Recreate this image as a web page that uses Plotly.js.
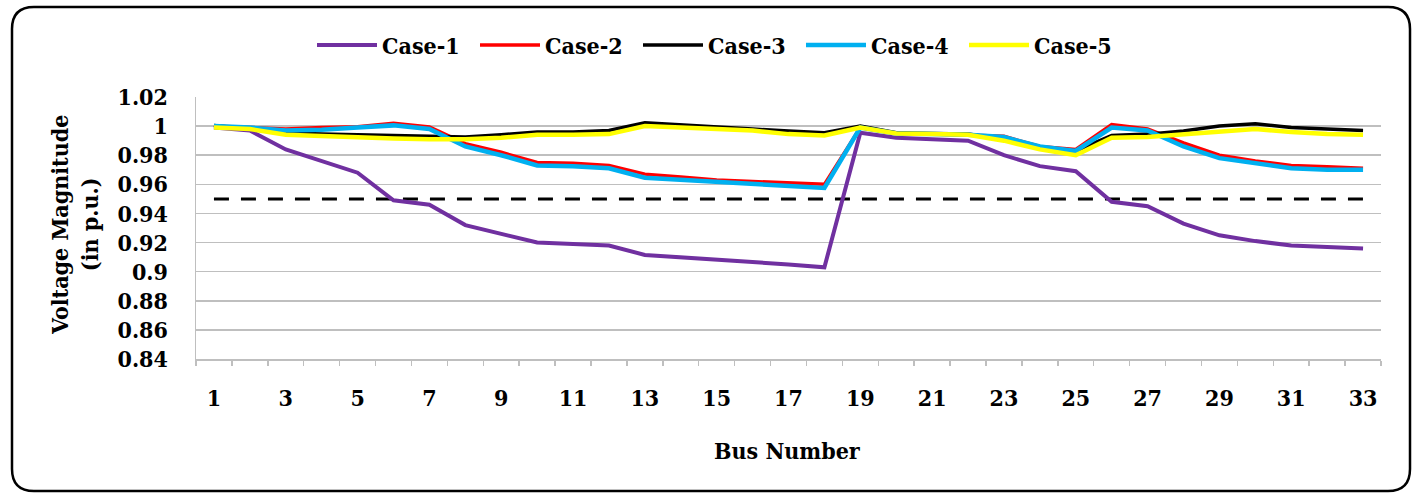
<!DOCTYPE html>
<html>
<head>
<meta charset="utf-8">
<script src="https://cdn.plot.ly/plotly-3.0.1.min.js"></script>
<style>
  html, body { margin: 0; padding: 0; background: #ffffff; }
  #chart { width: 1416px; height: 494px; }
</style>
</head>
<body>
<div id="chart"></div>
<script>
// ---- data ----
const buses = [1,2,3,4,5,6,7,8,9,10,11,12,13,14,15,16,17,18,19,20,21,22,23,24,25,26,27,28,29,30,31,32,33];

const case1 = [0.999,0.997,0.984,0.976,0.968,0.949,0.946,0.932,0.926,0.920,0.919,0.918,0.9115,0.910,0.908,0.9065,0.905,0.903,
               0.9955,0.992,0.991,0.990,0.980,0.9725,0.969,0.948,0.945,0.933,0.925,0.921,0.918,0.917,0.916];
const case2 = [1.000,0.999,0.998,0.999,0.9995,1.002,0.9995,0.988,0.982,0.975,0.9745,0.973,0.967,0.965,0.963,0.962,0.961,0.960,
               0.999,0.995,0.9945,0.994,0.993,0.986,0.984,1.001,0.998,0.9885,0.980,0.976,0.973,0.972,0.971];
const case3 = [1.0005,0.998,0.9955,0.9945,0.994,0.9935,0.993,0.9925,0.994,0.996,0.996,0.997,1.0023,1.0007,0.9993,0.998,0.9966,0.9955,
               1.000,0.9955,0.995,0.9945,0.991,0.985,0.983,0.9935,0.9945,0.9966,1.000,1.0016,0.999,0.998,0.997];
const case4 = [1.000,0.999,0.997,0.9975,0.999,1.0005,0.998,0.986,0.980,0.973,0.9725,0.971,0.9645,0.963,0.9615,0.9605,0.959,0.9575,
               0.999,0.995,0.9945,0.994,0.9925,0.986,0.983,0.999,0.997,0.986,0.978,0.9745,0.971,0.970,0.970];
const case5 = [0.999,0.998,0.994,0.993,0.9925,0.9915,0.991,0.991,0.992,0.994,0.994,0.9945,1.000,0.999,0.998,0.997,0.9945,0.9935,
               0.999,0.995,0.9945,0.994,0.990,0.984,0.980,0.992,0.9925,0.9945,0.9966,0.998,0.996,0.9945,0.994];

const limitX = [1, 33];
const limitY = [0.95, 0.95];

const seriesNames = ['Case-1','Case-2','Case-3','Case-4','Case-5'];
const xTickVals = [1,3,5,7,9,11,13,15,17,19,21,23,25,27,29,31,33];
const yTickVals = [0.84,0.86,0.88,0.90,0.92,0.94,0.96,0.98,1.00,1.02];

// ---- styling ----
const FONT = 'DejaVu Serif Condensed, DejaVu Serif';
const colors = ['#7030A0', '#FF0000', '#000000', '#00B0F0', '#FFFF00'];
const widths = [4, 3.5, 3.5, 4.5, 4.5];
const allSeries = [case1, case2, case3, case4, case5];

const traces = [];
traces.push({
  x: limitX, y: limitY, type: 'scatter', mode: 'lines',
  line: { color: '#000000', width: 3, dash: '15px,12px' },
  showlegend: false, hoverinfo: 'skip'
});
allSeries.forEach((s, i) => {
  traces.push({
    x: buses, y: s, type: 'scatter', mode: 'lines', name: seriesNames[i],
    line: { color: colors[i], width: widths[i] }
  });
});

const L = 196, T = 97, W = 1185, H = 262;
function px(xp) { return (xp - L) / W; }
function py(yp) { return (T + H - yp) / H; }
const fx0 = px(12), fx1 = px(1410), fy0 = py(7), fy1 = py(491);
const rx = 22 / W, ry = 22 / H;
const framePath =
  'M' + (fx0 + rx) + ',' + fy0 +
  ' L' + (fx1 - rx) + ',' + fy0 +
  ' Q' + fx1 + ',' + fy0 + ' ' + fx1 + ',' + (fy0 - ry) +
  ' L' + fx1 + ',' + (fy1 + ry) +
  ' Q' + fx1 + ',' + fy1 + ' ' + (fx1 - rx) + ',' + fy1 +
  ' L' + (fx0 + rx) + ',' + fy1 +
  ' Q' + fx0 + ',' + fy1 + ' ' + fx0 + ',' + (fy1 + ry) +
  ' L' + fx0 + ',' + (fy0 - ry) +
  ' Q' + fx0 + ',' + fy0 + ' ' + (fx0 + rx) + ',' + fy0 + ' Z';

const textFont = { family: FONT, size: 23, color: '#000000', weight: 'bold' };

const layout = {
  width: 1416, height: 494,
  margin: { l: L, r: 1416 - L - W, t: T, b: 494 - T - H, pad: 0 },
  paper_bgcolor: '#ffffff', plot_bgcolor: '#ffffff',
  font: textFont,
  showlegend: true,
  legend: {
    orientation: 'h', x: px(312), xanchor: 'left', y: py(45), yanchor: 'middle',
    font: textFont, entrywidth: 88, entrywidthmode: 'pixels',
    itemwidth: 60, bgcolor: 'rgba(0,0,0,0)', traceorder: 'normal'
  },
  xaxis: {
    type: 'linear', range: [0.5, 33.5], fixedrange: true,
    tickmode: 'array', tickvals: xTickVals, ticktext: xTickVals.map(String),
    ticks: '', showgrid: false, zeroline: false,
    showline: true, linecolor: '#BFBFBF', linewidth: 1.5,
    ticklabelstandoff: 18,
    tickfont: textFont,
    minor: { tickmode: 'linear', tick0: 0.5, dtick: 1, ticks: 'outside', ticklen: 5,
             tickcolor: '#BFBFBF', tickwidth: 1.5, showgrid: false }
  },
  yaxis: {
    range: [0.84, 1.02], fixedrange: true,
    tickmode: 'array', tickvals: yTickVals,
    ticktext: yTickVals.map(v => String(parseFloat(v.toFixed(2)))),
    ticks: '', showgrid: true, gridcolor: '#BFBFBF', gridwidth: 1.5,
    zeroline: false, showline: true, linecolor: '#BFBFBF', linewidth: 1.5,
    ticklabelstandoff: 22,
    tickfont: textFont
  },
  annotations: [
    { text: 'Voltage Magnitude<br>(in p.u.)', xref: 'paper', yref: 'paper',
      x: px(74), y: py(225), xanchor: 'center', yanchor: 'middle', textangle: -90,
      showarrow: false, font: textFont },
    { text: 'Bus Number', xref: 'paper', yref: 'paper',
      x: px(787), y: py(450), xanchor: 'center', yanchor: 'middle',
      showarrow: false, font: textFont }
  ],
  shapes: [
    { type: 'path', xref: 'paper', yref: 'paper', path: framePath,
      line: { color: '#000000', width: 2.5 }, fillcolor: 'rgba(0,0,0,0)', layer: 'below' }
  ]
};

Plotly.newPlot('chart', traces, layout, { displayModeBar: false, staticPlot: true });
</script>
</body>
</html>
